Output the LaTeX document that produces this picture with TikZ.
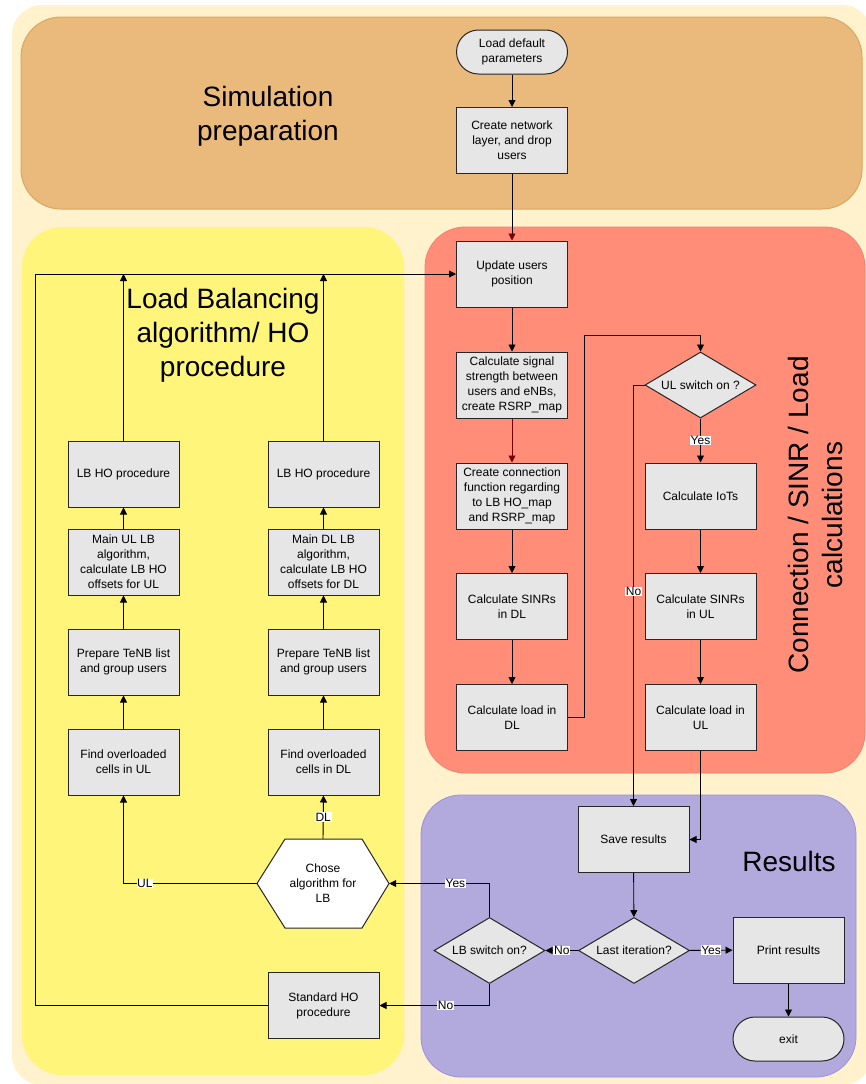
\documentclass[tikz,border=0pt]{standalone}
\usepackage{fontspec}
\setmainfont{Liberation Sans}
\usetikzlibrary{arrows.meta,shapes.geometric}
\definecolor{cream}{HTML}{FFF2CC}
\definecolor{orangebg}{HTML}{E9BA7B}
\definecolor{orangebd}{HTML}{DDA55F}
\definecolor{yellowbg}{HTML}{FFF57B}
\definecolor{redbg}{HTML}{FF8D78}
\definecolor{redbd}{HTML}{F87F6C}
\definecolor{purplebg}{HTML}{B2AADC}
\definecolor{purplebd}{HTML}{9890E4}
\definecolor{boxfill}{HTML}{E6E6E6}
\definecolor{arrred}{HTML}{7A0000}
\begin{document}
\begin{tikzpicture}[x=1pt,y=-1pt,
 box/.style={draw=black!85,line width=1pt,fill=boxfill,minimum width=111pt,minimum height=66pt,inner sep=1pt,align=center,font=\fontsize{12}{15}\selectfont},
 term/.style={box,minimum height=44pt,rounded corners=22pt},
 dec/.style={draw=black!85,line width=1pt,fill=boxfill,shape=diamond,minimum width=111pt,minimum height=66pt,inner sep=0pt,aspect=1.7,align=center,font=\fontsize{12}{15}\selectfont},
 conn/.style={line width=0.9pt,-{Triangle[length=7pt,width=7pt]}},
 redtip/.style={-{Triangle[length=7pt,width=7pt,color=arrred,fill=arrred]}},
 lab/.style={fill=white,inner sep=0.6pt,font=\fontsize{12}{14}\selectfont},
 title/.style={align=center,font=\fontsize{28}{34}\selectfont},
]
\useasboundingbox (0,0) rectangle (866,1084);
% containers
\fill[white] (0,0) rectangle (866,1084);
\fill[cream,rounded corners=30pt] (12,5) rectangle (872,1085);
\filldraw[fill=orangebg,draw=orangebd,line width=1pt,rounded corners=40pt] (21,17) rectangle (862,209);
\fill[yellowbg,rounded corners=40pt] (22,227) rectangle (404,1075);
\filldraw[fill=redbg,draw=redbd,line width=0.8pt,rounded corners=40pt] (425,227) rectangle (865,773);
\filldraw[fill=purplebg,draw=purplebd,line width=0.8pt,rounded corners=40pt] (421,795) rectangle (856,1077);

% titles
\node[title] (tsim) at (268,116) {Simulation\\preparation};
\node[title] (tlb) at (223,335) {Load Balancing\\algorithm/ HO\\procedure};
\node[title,rotate=90] (tcon) at (815,515) {Connection / SINR / Load\\calculations};
\node[title] (tres) at (789,861) {Results};

% hexagon outline
\filldraw[fill=white,draw=black!85,line width=1pt] (257,883.5) -- (285,839) -- (362,839) -- (389,883.5) -- (362,928) -- (285,928) -- cycle;

% nodes
\node[term] (load) at (512,52) {Load default\\parameters};
\node[box] (create) at (512,140.5) {Create network\\layer, and drop\\users};
\node[box] (update) at (512,274) {Update users\\position};
\node[box] (signal) at (512,385) {Calculate signal\\strength between\\users and eNBs,\\create RSRP\_map};
\node[box] (connf) at (512,496) {Create connection\\function regarding\\to LB HO\_map\\and RSRP\_map};
\node[box] (sinrdl) at (512,606.5) {Calculate SINRs\\in DL};
\node[box] (loaddl) at (512,717.5) {Calculate load in\\DL};
\node[dec] (ulsw) at (700.5,385) {UL switch on ?};
\node[box] (iot) at (700.5,496) {Calculate IoTs};
\node[box] (sinrul) at (700.5,606.5) {Calculate SINRs\\in UL};
\node[box] (loadul) at (700.5,717.5) {Calculate load in\\UL};
\node[box] (save) at (633.5,839.5) {Save results};
\node[dec] (last) at (634,950.5) {Last iteration?};
\node[box] (print) at (788.5,950) {Print results};
\node[term] (exit) at (788.5,1039) {exit};
\node[dec] (lbsw) at (489.5,950.5) {LB switch on?};
\node[align=center,minimum width=132pt,minimum height=89pt,inner sep=0pt,font=\fontsize{12}{15}\selectfont] (hex) at (323,883.5) {Chose\\algorithm for\\LB};
\node[box] (std) at (323.5,1005.5) {Standard HO\\procedure};
\node[box] (lbho1) at (123.5,474) {LB HO procedure};
\node[box] (mainul) at (123.5,562) {Main UL LB\\algorithm,\\calculate LB HO\\offsets for UL};
\node[box] (prepul) at (123.5,662) {Prepare TeNB list\\and group users};
\node[box] (findul) at (123.5,762) {Find overloaded\\cells in UL};
\node[box] (lbho2) at (323.5,474) {LB HO procedure};
\node[box] (maindl) at (323.5,562) {Main DL LB\\algorithm,\\calculate LB HO\\offsets for DL};
\node[box] (prepdl) at (323.5,662) {Prepare TeNB list\\and group users};
\node[box] (finddl) at (323.5,762) {Find overloaded\\cells in DL};

\coordinate (c1) at (584,335);
\coordinate (c2) at (633.5,385);
\coordinate (corner) at (35,274);

% connectors
\draw[conn] (load) -- (create);
\draw[conn,redtip] (create) -- (update);
\draw[conn] (update) -- (signal);
\draw[conn,redtip,draw=arrred] (signal) -- (connf);
\draw[conn] (connf) -- (sinrdl);
\draw[conn] (sinrdl) -- (loaddl);
\draw[conn] (loaddl.east) -- (loaddl.east -| c1) -- (c1) -| (ulsw.north);
\draw[conn] (ulsw) -- node[lab]{Yes} (iot);
\draw[conn] (iot) -- (sinrul);
\draw[conn] (sinrul) -- (loadul);
\draw[conn] (ulsw.west) -- (c2) -- node[lab,pos=0.49]{No} (save.north);
\draw[conn] (loadul.south) |- (save.east);
\draw[conn] (save) -- (last);
\draw[conn] (last) -- node[lab]{Yes} (print);
\draw[conn] (print) -- (exit);
\draw[conn] (last) -- node[lab]{No} (lbsw);
\draw[conn] (lbsw.north) |- node[lab,pos=0.67]{Yes} (hex.east);
\draw[conn] (lbsw.south) |- node[lab,pos=0.70]{No} (std.east);
\draw[conn] (hex.west) -| node[lab,pos=0.42]{UL} (findul.south);
\draw[conn] (hex.north) -- node[lab]{DL} (finddl.south);
\draw[conn] (findul) -- (prepul);
\draw[conn] (prepul) -- (mainul);
\draw[conn] (mainul) -- (lbho1);
\draw[conn] (finddl) -- (prepdl);
\draw[conn] (prepdl) -- (maindl);
\draw[conn] (maindl) -- (lbho2);
\draw[conn] (lbho1.north) -- (lbho1.north |- update.west);
\draw[conn] (lbho2.north) -- (lbho2.north |- update.west);
\draw[conn] (std.west) -- (std.west -| corner) -- (corner) -- (update.west);
\end{tikzpicture}
\end{document}
